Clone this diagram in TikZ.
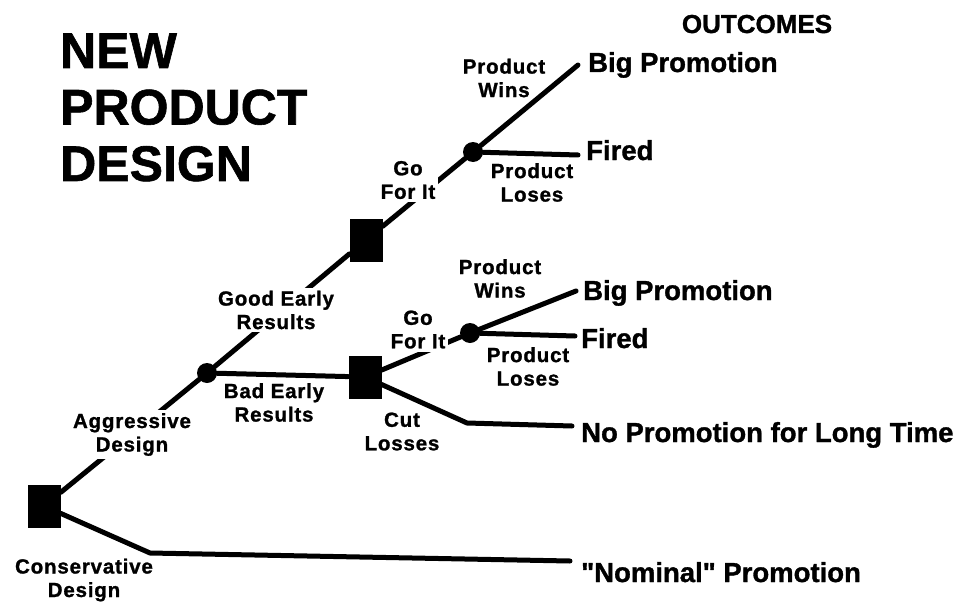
\documentclass[tikz,border=0pt]{standalone}
\usepackage{fontspec}
\setmainfont{Liberation Sans}[Ligatures=TeXOff, BoldFeatures={FakeBold=1.2}]
\newfontfamily\tagfont{Liberation Sans}[LetterSpace=4, BoldFeatures={FakeBold=1.2}]
\begin{document}
\begin{tikzpicture}[x=1pt,y=-1pt,
  branch/.style={line width=5pt, line cap=round, line join=round},
  decision/.style={rectangle, fill=black, minimum width=33pt, minimum height=43pt, inner sep=0pt},
  chance/.style={circle, fill=black, minimum size=20pt, inner sep=0pt},
  brlabel/.style={font=\tagfont\bfseries\fontsize{20.5}{23.5}\selectfont, align=center, inner sep=1pt},
  masked/.style={fill=white, inner sep=3pt},
  outcome/.style={font=\bfseries\fontsize{27.5}{30}\selectfont, anchor=base west, inner sep=0pt},
  heading/.style={font=\bfseries\fontsize{50}{56.5}\selectfont, align=left, anchor=west, inner sep=0pt}
]
\useasboundingbox (0,0) rectangle (965,607);

% title and column heading
\node[heading] (title) at (60,107.5) {NEW\\PRODUCT\\DESIGN};
\node[font=\bfseries\fontsize{26}{30}\selectfont, anchor=base, inner sep=0pt] (outhead) at (757,33) {OUTCOMES};

% decision (square) and chance (circle) nodes
\node[decision] (sq1) at (44,506) {};
\node[chance]   (ch1) at (207,373) {};
\node[decision] (sq2) at (366,240) {};
\node[chance]   (ch2) at (473,152) {};
\node[decision] (sq3) at (365,377) {};
\node[chance]   (ch3) at (470,333) {};

% bends and branch ends
\coordinate (bendN) at (150,553);
\coordinate (endN)  at (570,561);
\coordinate (bendC) at (467,423);
\coordinate (endC)  at (572,426);
\coordinate (endBP1) at (578,65);
\coordinate (endF1)  at (578,155);
\coordinate (endBP2) at (576,291);
\coordinate (endF2)  at (575,336);

% branches
\draw[branch] (sq1) -- (ch1);
\draw[branch] (sq1) -- (bendN) -- (endN);
\draw[branch] (ch1) -- (sq2);
\draw[branch] (ch1) -- (sq3);
\draw[branch] (sq2) -- (ch2);
\draw[branch] (ch2) -- (endBP1);
\draw[branch] (ch2) -- (endF1);
\draw[branch] (sq3) -- (ch3);
\draw[branch] (ch3) -- (endBP2);
\draw[branch] (ch3) -- (endF2);
\draw[branch] (sq3) -- (bendC) -- (endC);

% branch labels
\node[brlabel, masked] (agg)  at (132,434.5) {Aggressive\\Design};
\node[brlabel] (cons) at (84,580) {Conservative\\Design};
\node[brlabel, masked] (good) at (276,310) {Good Early\\Results};
\node[brlabel] (bad)  at (274,402.5) {Bad Early\\Results};
\node[brlabel, masked] (go1) at (408,180) {Go\\For It};
\node[brlabel] (pw1) at (504,78) {Product\\Wins};
\node[brlabel] (pl1) at (532,182.5) {Product\\Loses};
\node[brlabel, masked] (go2) at (418,329.5) {Go\\For It};
\node[brlabel] (pw2) at (500,278.5) {Product\\Wins};
\node[brlabel] (pl2) at (528,366.5) {Product\\Loses};
\node[brlabel] (cut) at (402,431.5) {Cut\\Losses};

% outcomes
\node[outcome] (o1) at (588,72)  {Big Promotion};
\node[outcome] (o2) at (586,160) {Fired};
\node[outcome] (o3) at (583,300) {Big Promotion};
\node[outcome] (o4) at (581,348) {Fired};
\node[outcome] (o5) at (581,442) {No Promotion for Long Time};
\node[outcome] (o6) at (581,582) {"Nominal" Promotion};
\end{tikzpicture}
\end{document}
